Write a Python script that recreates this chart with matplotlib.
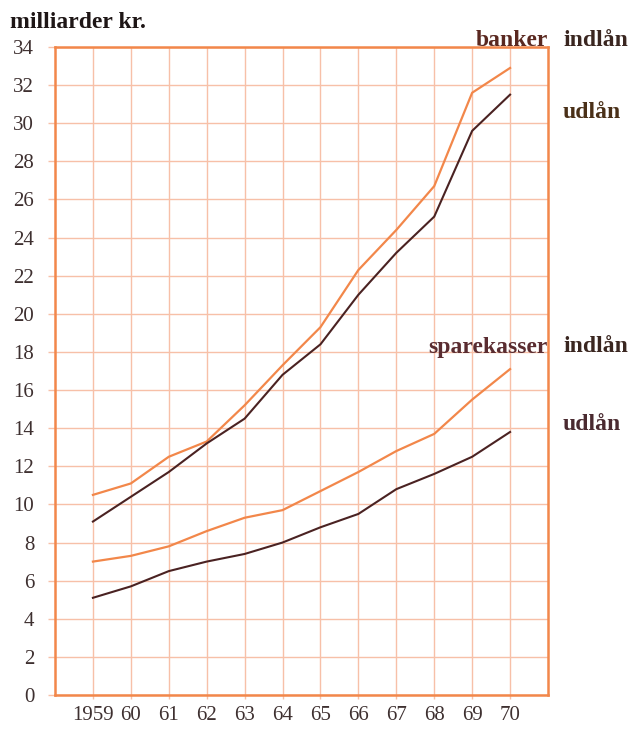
import matplotlib.pyplot as plt

years = [1959, 1960, 1961, 1962, 1963, 1964, 1965, 1966, 1967, 1968, 1969, 1970]
year_labels = ['1959', '60', '61', '62', '63', '64', '65', '66', '67', '68', '69', '70']

banker_indlaan = [10.5, 11.1, 12.5, 13.3, 15.2, 17.3, 19.3, 22.3, 24.4, 26.7, 31.6, 32.9]
banker_udlaan = [9.1, 10.4, 11.7, 13.2, 14.5, 16.8, 18.4, 21.0, 23.2, 25.1, 29.6, 31.5]
spk_indlaan = [7.0, 7.3, 7.8, 8.6, 9.3, 9.7, 10.7, 11.7, 12.8, 13.7, 15.5, 17.1]
spk_udlaan = [5.1, 5.7, 6.5, 7.0, 7.4, 8.0, 8.8, 9.5, 10.8, 11.6, 12.5, 13.8]

y_ticks = list(range(0, 35, 2))

orange = '#f2874a'
grid_c = '#f7c0a8'
brown = '#4a2222'
text_c = '#3e3030'

plt.rcParams['font.family'] = ['Liberation Serif', 'DejaVu Serif']

fig = plt.figure(figsize=(6.3, 7.29), dpi=100)
ax = fig.add_axes([55 / 630, 1 - 695 / 729, 493 / 630, 648 / 729])

ax.plot(years, banker_indlaan, color=orange, lw=1.6, zorder=3)
ax.plot(years, banker_udlaan, color=brown, lw=1.5, zorder=3)
ax.plot(years, spk_indlaan, color=orange, lw=1.6, zorder=3)
ax.plot(years, spk_udlaan, color=brown, lw=1.5, zorder=3)

ax.set_xlim(1958, 1971)
ax.set_ylim(0, 34)
ax.set_xticks(years)
ax.set_xticklabels(year_labels)
ax.set_yticks(y_ticks)
ax.grid(True, color=grid_c, lw=1.0, zorder=1)
for s in ax.spines.values():
    s.set_color(orange)
    s.set_linewidth(1.8)
ax.tick_params(axis='y', length=5, color=grid_c, width=1.0, pad=10,
               labelsize=15, labelcolor=text_c)
ax.tick_params(axis='x', length=3, color=grid_c, width=1.0, pad=5,
               labelsize=15, labelcolor=text_c)

fig.text(10 / 630, 1 - 22 / 729, 'milliarder kr.', fontsize=17, fontweight='bold',
         color='#1e1616', va='center', ha='left')

lab = dict(fontsize=17, fontweight='bold', va='center')
fig.text(548 / 630, 1 - 40 / 729, 'banker', color='#5a2820', ha='right', **lab)
fig.text(563 / 630, 1 - 40 / 729, 'indlån', color='#3a2620', ha='left', **lab)
fig.text(563 / 630, 1 - 113 / 729, 'udlån', color='#4a3018', ha='left', **lab)
fig.text(548 / 630, 1 - 347 / 729, 'sparekasser', color='#5a2c30', ha='right', **lab)
fig.text(563 / 630, 1 - 347 / 729, 'indlån', color='#3a2620', ha='left', **lab)
fig.text(563 / 630, 1 - 424 / 729, 'udlån', color='#4a2a30', ha='left', **lab)

fig.savefig('out.png', dpi=100)
